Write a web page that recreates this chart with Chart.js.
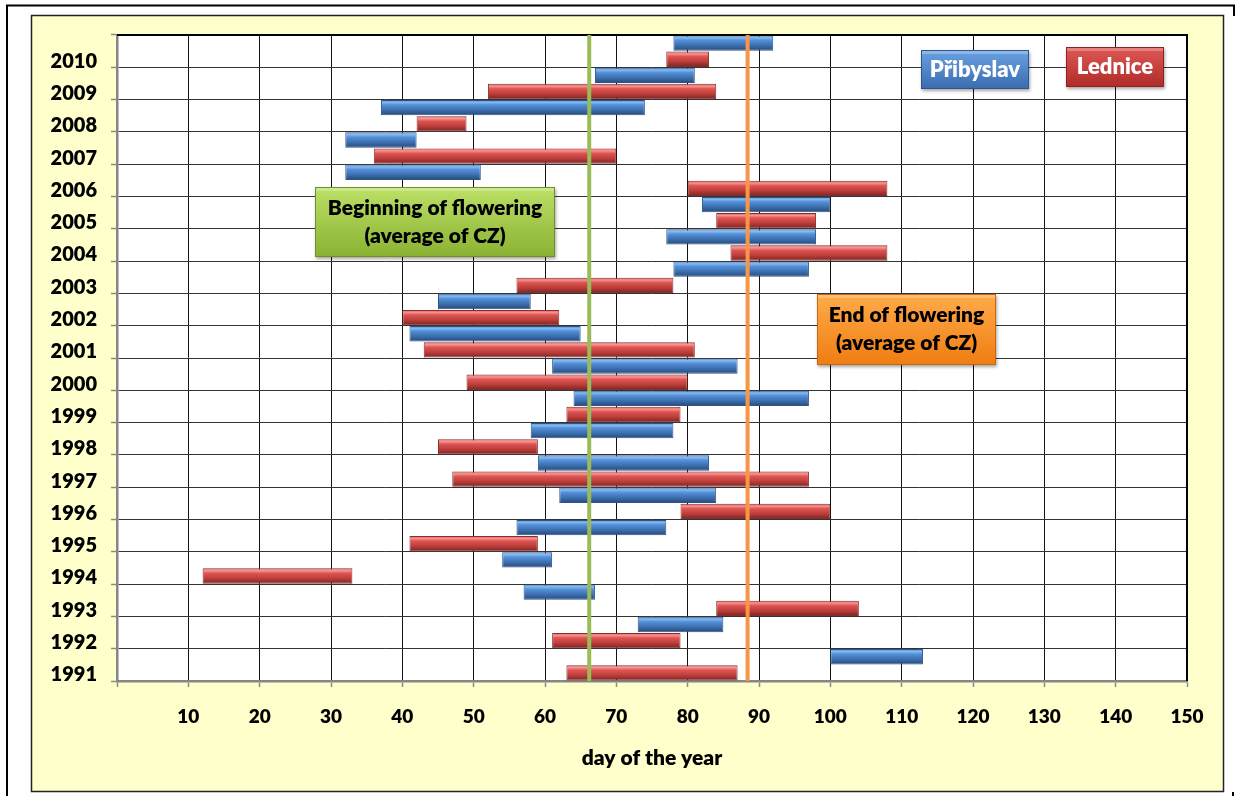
<!DOCTYPE html>
<html>
<head>
<meta charset="utf-8">
<script src="https://cdn.jsdelivr.net/npm/chart.js@4.4.1/dist/chart.umd.min.js"></script>
<style>
  html, body { margin: 0; padding: 0; background: #fff; }
  #wrap { width: 1241px; height: 796px; }
</style>
</head>
<body>
<div id="wrap"><canvas id="flowering" width="1241" height="796"></canvas></div>
<script>
// flowering periods, day of the year
const years = [1991, 1992, 1993, 1994, 1995, 1996, 1997, 1998, 1999, 2000,
               2001, 2002, 2003, 2004, 2005, 2006, 2007, 2008, 2009, 2010];

const ledniceStart = [63, 61, 84, 12, 41, 79, 47, 45, 63, 49, 43, 40, 56, 86, 84, 80, 36, 42, 52, 77];
const ledniceEnd   = [87, 79, 104, 33, 59, 100, 97, 59, 79, 80, 81, 62, 78, 108, 98, 108, 70, 49, 84, 83];

const pribyslavStart = [100, 73, 57, 54, 56, 62, 59, 58, 64, 61, 41, 45, 78, 77, 82, 32, 32, 37, 67, 78];
const pribyslavEnd   = [113, 85, 67, 61, 77, 84, 83, 78, 97, 87, 65, 58, 97, 98, 100, 51, 42, 74, 81, 92];

// averages for CZ
const beginAvg = 66.2;
const endAvg = 88.4;

const xMin = 0, xMax = 150, xStep = 10;

// each year takes two rows: Lednice (labelled) and Přibyslav above it
const rowLabels = [];
const ledniceRows = [];
const pribyslavRows = [];
years.forEach((yr, i) => {
    rowLabels.push(String(yr), '');
    ledniceRows.push([ledniceStart[i], ledniceEnd[i]], null);
    pribyslavRows.push(null, [pribyslavStart[i], pribyslavEnd[i]]);
});

const FONT = 'Lato, "Open Sans", sans-serif';
const WEIGHT = 800;

function barFill(stops) {
    return ctx => {
        const chart = ctx.chart;
        const y = chart.scales.y;
        if (!y || ctx.type !== 'data' || typeof ctx.dataIndex !== 'number') return stops[2][1];
        const c = y.getPixelForValue(ctx.dataIndex);
        if (!isFinite(c)) return stops[2][1];
        const h = 7.5;
        const g = chart.ctx.createLinearGradient(0, c - h, 0, c + h);
        stops.forEach(s => g.addColorStop(s[0], s[1]));
        return g;
    };
}

const blueStops = [[0, '#4f88cc'], [0.14, '#86baf0'], [0.32, '#5490d8'], [0.65, '#3d70b0'], [1, '#28497a']];
const redStops  = [[0, '#d45451'], [0.14, '#f89592'], [0.32, '#dd5552'], [0.65, '#bd3e3b'], [1, '#7c2523']];

// yellow chart box, outer frame, white plot
const framePlugin = {
    id: 'frame',
    beforeDraw(chart) {
        const c = chart.ctx;
        const a = chart.chartArea;
        c.save();
        c.strokeStyle = '#000';
        c.lineWidth = 2;
        c.beginPath();
        c.moveTo(7, 796); c.lineTo(7, 5.5); c.lineTo(1234, 5.5); c.lineTo(1234, 16);
        c.moveTo(1233, 792); c.lineTo(1233, 796);
        c.stroke();
        c.fillStyle = '#ffffcc';
        c.fillRect(31, 15, 1193, 777);
        c.strokeStyle = '#222';
        c.lineWidth = 1.5;
        c.strokeRect(31.5, 15.5, 1192, 776);
        c.fillStyle = '#fff';
        c.fillRect(a.left, a.top, a.right - a.left, a.bottom - a.top);
        c.restore();
    },
    afterDatasetsDraw(chart) {
        const c = chart.ctx;
        const a = chart.chartArea;
        c.save();
        c.strokeStyle = '#000';
        c.lineWidth = 2;
        c.beginPath();
        c.moveTo(a.left, a.top); c.lineTo(a.right, a.top); c.lineTo(a.right, a.bottom);
        c.stroke();
        c.restore();
    }
};

function drawBox(c, x, y, w, h, top, bottom, edge, lines, color, size) {
    c.save();
    c.shadowColor = 'rgba(0,0,0,0.35)';
    c.shadowOffsetX = 1;
    c.shadowOffsetY = 2;
    c.shadowBlur = 3;
    const g = c.createLinearGradient(0, y, 0, y + h);
    g.addColorStop(0, top);
    g.addColorStop(1, bottom);
    c.fillStyle = g;
    c.fillRect(x, y, w, h);
    c.restore();
    c.save();
    c.strokeStyle = edge;
    c.lineWidth = 1;
    c.strokeRect(x + 0.5, y + 0.5, w - 1, h - 1);
    c.fillStyle = 'rgba(255,255,255,0.25)';
    c.fillRect(x + 1, y + 1, w - 2, 3);
    c.fillStyle = color;
    c.font = WEIGHT + ' ' + size + 'px ' + FONT;
    c.textAlign = 'center';
    c.textBaseline = 'middle';
    const step = 28;
    const cy = y + h / 2 - (lines.length - 1) * step / 2;
    lines.forEach((t, i) => c.fillText(t, x + w / 2, cy + i * step));
    c.restore();
}

// average lines, note boxes and legend boxes
const notesPlugin = {
    id: 'notes',
    afterDatasetsDraw(chart) {
        const c = chart.ctx;
        const a = chart.chartArea;
        const x = chart.scales.x;
        c.save();
        c.lineWidth = 4;
        c.strokeStyle = '#9bbb59';
        let px = x.getPixelForValue(beginAvg);
        c.beginPath(); c.moveTo(px, a.top); c.lineTo(px, a.bottom); c.stroke();
        c.strokeStyle = '#f79646';
        px = x.getPixelForValue(endAvg);
        c.beginPath(); c.moveTo(px, a.top); c.lineTo(px, a.bottom); c.stroke();
        c.restore();

        drawBox(c, 315, 187, 240, 70, '#bde067', '#8ab232', '#6f8f2a',
            ['Beginning of flowering', '(average of CZ)'], '#000', 21);
        drawBox(c, 817, 294, 179, 71, '#ffab4a', '#ef7d12', '#c76710',
            ['End of flowering', '(average of CZ)'], '#000', 21);
        drawBox(c, 921, 50, 108, 39, '#6aa2e4', '#3a6cae', '#2c568c',
            ['Přibyslav'], '#fff', 22);
        drawBox(c, 1066, 47, 98, 40, '#df5a57', '#b02a28', '#8a2321',
            ['Lednice'], '#fff', 22);
    }
};

new Chart(document.getElementById('flowering'), {
    type: 'bar',
    data: {
        labels: rowLabels,
        datasets: [
            {
                label: 'Lednice',
                data: ledniceRows,
                backgroundColor: barFill(redStops),
                borderColor: '#872f2c',
                borderWidth: 1,
                borderSkipped: false
            },
            {
                label: 'Přibyslav',
                data: pribyslavRows,
                backgroundColor: barFill(blueStops),
                borderColor: '#2b5588',
                borderWidth: 1,
                borderSkipped: false
            }
        ]
    },
    options: {
        indexAxis: 'y',
        responsive: false,
        animation: false,
        layout: { padding: { left: 40, right: 54, top: 35, bottom: 25 } },
        datasets: { bar: { grouped: false, barPercentage: 0.95, categoryPercentage: 1 } },
        plugins: {
            legend: { display: false },
            tooltip: { enabled: false }
        },
        scales: {
            x: {
                type: 'linear',
                min: xMin,
                max: xMax,
                ticks: {
                    stepSize: xStep,
                    color: '#000',
                    padding: 18,
                    maxRotation: 0,
                    font: { family: FONT, size: 19, weight: WEIGHT },
                    callback: v => (v === 0 ? '' : v)
                },
                grid: {
                    color: c => (c.tick && c.tick.value > 0 && c.tick.value < xMax ? '#111' : 'rgba(0,0,0,0)'),
                    lineWidth: 1,
                    tickColor: '#8a8a8a',
                    tickLength: 6,
                    tickWidth: 1.5
                },
                border: { color: '#868686', width: 2.5 },
                title: {
                    display: true,
                    text: 'day of the year',
                    color: '#000',
                    padding: 0,
                    font: { family: FONT, size: 21, weight: WEIGHT }
                },
                afterFit: s => { s.height = 90; }
            },
            y: {
                type: 'category',
                reverse: true,
                offset: true,
                ticks: {
                    autoSkip: false,
                    color: '#000',
                    padding: 14,
                    labelOffset: 2,
                    font: { family: FONT, size: 20, weight: WEIGHT }
                },
                grid: {
                    offset: true,
                    color: c => (c.index > 0 && c.index % 2 === 0 ? '#333' : 'rgba(0,0,0,0)'),
                    lineWidth: 1,
                    tickColor: c => (c.index === undefined || c.index % 2 === 0 ? '#8a8a8a' : 'rgba(0,0,0,0)'),
                    tickLength: 6,
                    tickWidth: 1.5
                },
                border: { color: '#868686', width: 2.5 },
                afterFit: s => { s.width = 77; }
            }
        }
    },
    plugins: [framePlugin, notesPlugin]
});
</script>
</body>
</html>
